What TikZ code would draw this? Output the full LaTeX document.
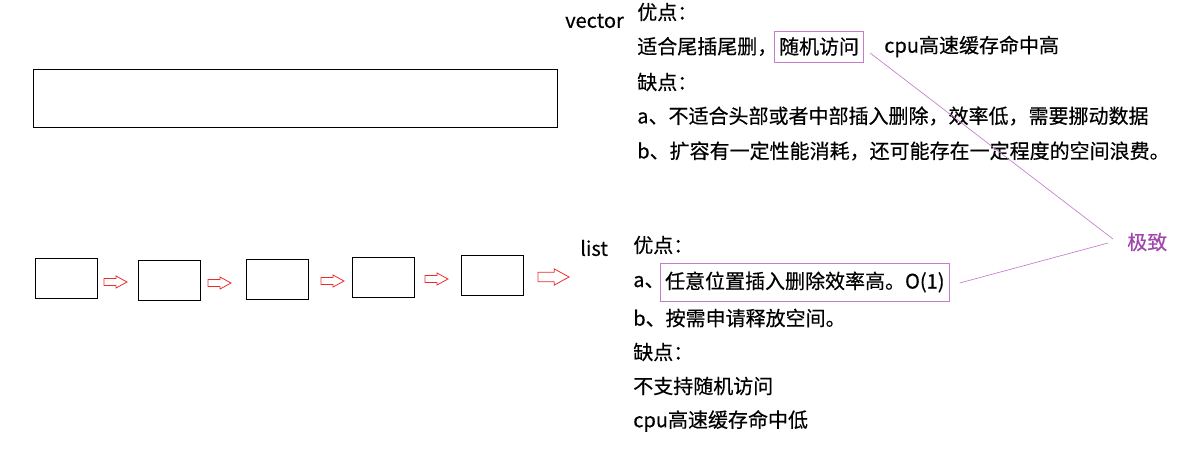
\documentclass[tikz,border=0pt]{standalone}
\usepackage{fontspec}
\setmainfont{Noto Sans CJK SC}[FakeBold=0.4]
\usepackage{xcolor}
\usetikzlibrary{calc}

\definecolor{boxpurple}{RGB}{196,125,204}
\definecolor{textpurple}{RGB}{160,70,172}
\definecolor{arrowred}{RGB}{236,45,45}

\begin{document}
\begin{tikzpicture}[x=0.75pt, y=-0.75pt,
  txt/.style={anchor=west, inner sep=0pt, font=\fontsize{15}{18}\selectfont},
  cell/.style={draw, line width=0.75pt, minimum width=46.5pt, minimum height=30pt, inner sep=0pt},
  hilite/.style={txt, draw=boxpurple, line width=0.6pt, inner xsep=3.5pt},
  link/.style={draw=boxpurple, line width=0.5pt},
  blockarrow/.pic={\draw[arrowred, line width=0.6pt] (0,-3.5) -- (12,-3.5) -- (12,-6) -- (23,0) -- (12,6) -- (12,3.5) -- (0,3.5) -- cycle;}
]
\useasboundingbox (0,0) rectangle (1201,450);

% Contiguous storage
\node[draw, line width=0.75pt, minimum width=393pt, minimum height=43.5pt, inner sep=0pt] (vec) at (295,98) {};

% Linked cells
\node[cell] (c1) at (66,278) {};
\node[cell] (c2) at (169,280) {};
\node[cell] (c3) at (277,279) {};
\node[cell] (c4) at (383,277) {};
\node[cell] (c5) at (492,275) {};
\pic at (104,282) {blockarrow};
\pic at (208,283) {blockarrow};
\pic at (321,281) {blockarrow};
\pic at (425,279) {blockarrow};
\pic[scale=1.35] at (538,277) {blockarrow};

% vector notes
\node[txt] (vname) at (565,21) {vector};
\node[txt] (vpro) at (637,12) {优点：};
\node[txt] (vp1) at (637,46.5) {适合尾插尾删，};
\node[hilite, minimum height=23.25pt] (rand) at (774,46.5) {随机访问};
\node[txt] (vp2) at (884,46.5) {cpu高速缓存命中高};
\node[txt] (vcon) at (637,82) {缺点：};
\node[txt] (vc1) at (637,116) {a、不适合头部或者中部插入删除，效率低，需要挪动数据};
\node[txt] (vc2) at (637,151) {b、扩容有一定性能消耗，还可能存在一定程度的空间浪费。};

% list notes
\node[txt] (lname) at (580,248) {list};
\node[txt] (lpro) at (633,245) {优点：};
\node[txt] (lp1) at (633,282) {a、};
\node[hilite, minimum height=28.5pt] (opt) at (660,282) {任意位置插入删除效率高。O(1)};
\node[txt] (lp2) at (633,318) {b、按需申请释放空间。};
\node[txt] (lcon) at (633,352) {缺点：};
\node[txt] (lc1) at (633,386) {不支持随机访问};
\node[txt] (lc2) at (633,421) {cpu高速缓存命中低};

% Comment
\node[txt, textpurple] (jz) at (1127,242) {极致};
\draw[link] ([xshift=4.5pt, yshift=-4.9pt]rand.east) -- ([xshift=-10.5pt, yshift=2.25pt]jz.west);
\draw[link] ([xshift=7.5pt, yshift=-0.75pt]opt.east) -- ([xshift=-14.25pt, yshift=-0.75pt]jz.west);

\end{tikzpicture}
\end{document}
